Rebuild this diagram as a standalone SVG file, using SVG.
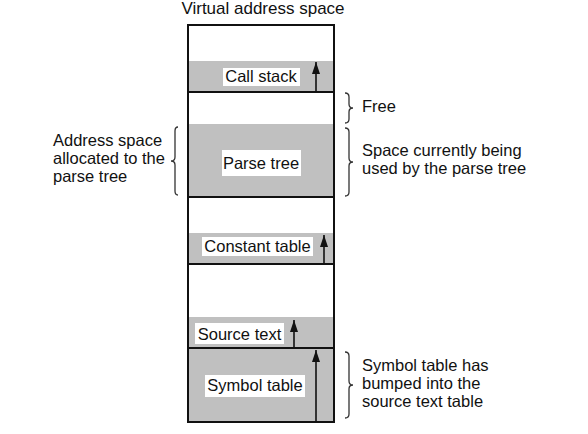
<svg xmlns="http://www.w3.org/2000/svg" width="588" height="434" viewBox="0 0 588 434">
<defs>
<style>
.t{font-family:"Liberation Sans",Arial,sans-serif;font-size:16.5px;fill:#111}
.c{text-anchor:middle}
.gray{fill:#c0c0c0}
.ln{stroke:#111;stroke-width:2;fill:none}
.br{stroke:#333;stroke-width:1.3;fill:none}
.ar{stroke:#111;stroke-width:1.6}
.lb{fill:#fff}
</style>
<marker id="up" viewBox="0 0 8 12" refX="4" refY="0" markerWidth="8" markerHeight="12" markerUnits="userSpaceOnUse" orient="0">
<path d="M4 0 L8 12 L0 12 Z" fill="#111"/>
</marker>
</defs>
<rect width="588" height="434" fill="#fff"/>
<text class="t c" x="263" y="14" style="font-size:17px">Virtual address space</text>

<g id="call-stack">
<rect class="gray" x="189" y="61" width="145" height="31"/>
<rect class="lb" x="223" y="68" width="77" height="18"/>
<text class="t c" x="261" y="82">Call stack</text>
</g>
<g id="parse-tree">
<rect class="gray" x="189" y="124" width="145" height="73"/>
<rect class="lb" x="222" y="150" width="79" height="26"/>
<text class="t c" x="261" y="169">Parse tree</text>
</g>
<g id="constant-table">
<rect class="gray" x="189" y="233" width="145" height="31"/>
<rect class="lb" x="202" y="237" width="111" height="19"/>
<text class="t c" x="257.500" y="252">Constant table</text>
</g>
<g id="source-text">
<rect class="gray" x="189" y="317" width="145" height="31"/>
<rect class="lb" x="195" y="323" width="89" height="21"/>
<text class="t c" x="239.500" y="340">Source text</text>
</g>
<g id="symbol-table">
<rect class="gray" x="189" y="349" width="145" height="73"/>
<rect class="lb" x="205" y="375" width="100" height="22"/>
<text class="t c" x="255" y="391">Symbol table</text>
</g>

<g id="frame">
<rect class="ln" x="188" y="25" width="146" height="397"/>
<line class="ln" x1="188" y1="92" x2="334" y2="92"/>
<line class="ln" x1="188" y1="197" x2="334" y2="197"/>
<line class="ln" x1="188" y1="264" x2="334" y2="264"/>
<line class="ln" x1="188" y1="348" x2="334" y2="348"/>
</g>

<g id="connectors">
<line class="ar" x1="316" y1="92" x2="316" y2="62" marker-end="url(#up)"/>
<line class="ar" x1="324" y1="264" x2="324" y2="235" marker-end="url(#up)"/>
<line class="ar" x1="294" y1="348" x2="294" y2="320" marker-end="url(#up)"/>
<line class="ar" x1="316" y1="422" x2="316" y2="350" marker-end="url(#up)"/>
</g>

<g id="brace-left">
<path class="br" d="M178 127 Q175 127 175 131 L175 157 Q175 161 171 161 Q175 161 175 165 L175 191 Q175 195 178 195"/>
<text class="t" x="53" y="145.500">Address space</text>
<text class="t" x="53" y="163.500">allocated to the</text>
<text class="t" x="53" y="181.500">parse tree</text>
</g>
<g id="brace-free">
<path class="br" d="M345 93 Q349 93 349 97 L349 104 Q349 108 353 108 Q349 108 349 112 L349 119 Q349 123 345 123"/>
<text class="t" x="362" y="112">Free</text>
</g>
<g id="brace-used">
<path class="br" d="M345 128 Q349 128 349 132 L349 158 Q349 162 353 162 Q349 162 349 166 L349 192 Q349 196 345 196"/>
<text class="t" x="362" y="156">Space currently being</text>
<text class="t" x="362" y="174">used by the parse tree</text>
</g>
<g id="brace-symbol">
<path class="br" d="M345 352 Q349 352 349 356 L349 381 Q349 385 353 385 Q349 385 349 389 L349 414 Q349 418 345 418"/>
<text class="t" x="362" y="371">Symbol table has</text>
<text class="t" x="362" y="389">bumped into the</text>
<text class="t" x="362" y="407">source text table</text>
</g>
</svg>
